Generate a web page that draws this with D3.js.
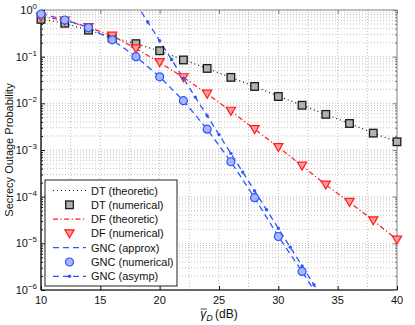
<!DOCTYPE html>
<html>
<head>
<meta charset="utf-8">
<script src="https://cdn.jsdelivr.net/npm/d3@7"></script>
<style>
  body { margin: 0; background: #fff; }
  text { font-family: "Liberation Sans", Arial, sans-serif; }
</style>
</head>
<body>
<div id="chart"></div>
<script>
let w = 415,
    h = 325;

let margin = { top: 10, bottom: 35, left: 41, right: 18 };
let width = w - margin.left - margin.right;
let height = h - margin.top - margin.bottom;

// data
let snrNum = [10, 12, 14, 16, 18, 20, 22, 24, 26, 28, 30, 32, 34, 36, 38, 40];
let dtTheoretic = [0.64, 0.52, 0.37, 0.26, 0.19, 0.132, 0.086, 0.056, 0.036, 0.023, 0.0143, 0.0091, 0.0058, 0.0037, 0.0023, 0.0015];
let dtNumerical = [0.63, 0.52, 0.37, 0.25, 0.19, 0.134, 0.085, 0.056, 0.036, 0.023, 0.014, 0.0091, 0.0058, 0.0037, 0.0023, 0.0015];
let dfTheoretic = [0.73, 0.6, 0.43, 0.28, 0.15, 0.075, 0.036, 0.016, 0.0068, 0.0028, 0.00115, 0.00046, 0.00018, 0.000076, 0.000031, 0.000012];
let dfNumerical = [0.72, 0.59, 0.43, 0.28, 0.15, 0.076, 0.036, 0.016, 0.0069, 0.0028, 0.00115, 0.00046, 0.00018, 0.000077, 0.000031, 0.000012];

let snrGnc = [10, 12, 14, 16, 18, 20, 22, 24, 26, 28, 30, 32, 34];
let gncApprox = [0.84, 0.62, 0.42, 0.23, 0.1, 0.037, 0.0114, 0.0028, 0.00056, 0.000095, 0.000014, 0.0000025, 0.0000004];
let gncNumerical = [0.82, 0.61, 0.42, 0.23, 0.1, 0.037, 0.0114, 0.0028, 0.00056, 0.000095, 0.000014, 0.0000025];

let snrAsymp = [18, 19, 20, 21, 22, 23, 24, 25, 26, 27, 28, 29, 30, 31, 32, 33, 34];
let gncAsymp = [1.39, 0.552, 0.219, 0.0867, 0.0344, 0.0136, 0.0054, 0.00214, 0.000847, 0.000336, 0.000133, 0.0000527, 0.0000209, 0.00000828, 0.00000328, 0.0000013, 0.000000515];

let xTicks = [10, 15, 20, 25, 30, 35, 40];
let yTicks = [1, 1e-1, 1e-2, 1e-3, 1e-4, 1e-5, 1e-6];
let yTickExp = ["0", "\u22121", "\u22122", "\u22123", "\u22124", "\u22125", "\u22126"];
let legendLabels = ["DT (theoretic)", "DT (numerical)", "DF (theoretic)", "DF (numerical)", "GNC (approx)", "GNC (numerical)", "GNC (asymp)"];

let blue = "#2b55ff";
let red = "#ff1a1a";

let svg = d3.select("#chart")
            .append("svg")
            .attr("width", w)
            .attr("height", h);

let g = svg.append("g")
           .attr("transform", "translate(" + margin.left + "," + margin.top + ")");

let x = d3.scaleLinear().domain([10, 40]).range([0, width]);
let y = d3.scaleLog().domain([1e-6, 1]).range([height, 0]);

g.append("clipPath").attr("id", "clip")
  .append("rect").attr("width", width).attr("height", height);

// grid
let minorY = [];
for (let e = -6; e < 0; e++) {
  for (let m = 2; m <= 9; m++) minorY.push(m * Math.pow(10, e));
}
let gridX = d3.range(10, 40.01, 2.5);

g.append("g").selectAll("line")
  .data(minorY.concat(yTicks.slice(1, 6)))
  .enter().append("line")
  .attr("x1", 0).attr("x2", width)
  .attr("y1", d => y(d)).attr("y2", d => y(d))
  .attr("stroke", "#b0b0b0").attr("stroke-width", 0.8)
  .attr("stroke-dasharray", "1,2");

g.append("g").selectAll("line")
  .data(gridX.slice(1, -1))
  .enter().append("line")
  .attr("x1", d => x(d)).attr("x2", d => x(d))
  .attr("y1", 0).attr("y2", height)
  .attr("stroke", "#b0b0b0").attr("stroke-width", 0.8)
  .attr("stroke-dasharray", "1,2");

// axes box
g.append("rect").attr("width", width).attr("height", height)
  .attr("fill", "none").attr("stroke", "#808080").attr("stroke-width", 1);
g.append("line").attr("x1", 0).attr("x2", 0).attr("y1", 0).attr("y2", height)
  .attr("stroke", "#111").attr("stroke-width", 1.2);
g.append("line").attr("x1", 0).attr("x2", width).attr("y1", height).attr("y2", height)
  .attr("stroke", "#111").attr("stroke-width", 1.2);

// inward ticks
let xAxisB = d3.axisBottom(x).tickValues(xTicks).tickSize(-4).tickFormat("");
let xAxisT = d3.axisTop(x).tickValues(xTicks).tickSize(-4).tickFormat("");
let yAxisL = d3.axisLeft(y).tickValues(yTicks).tickSize(-4).tickFormat("");
let yAxisR = d3.axisRight(y).tickValues(yTicks).tickSize(-4).tickFormat("");
let yMinorL = d3.axisLeft(y).tickValues(minorY).tickSize(-2).tickFormat("");
let yMinorR = d3.axisRight(y).tickValues(minorY).tickSize(-2).tickFormat("");

[[xAxisB, "translate(0," + height + ")", "#111"],
 [xAxisT, "translate(0,0)", "#808080"],
 [yAxisL, "translate(0,0)", "#111"],
 [yAxisR, "translate(" + width + ",0)", "#808080"],
 [yMinorL, "translate(0,0)", "#111"],
 [yMinorR, "translate(" + width + ",0)", "#808080"]].forEach(a => {
  let ax = g.append("g").attr("transform", a[1]).call(a[0]);
  ax.select(".domain").remove();
  ax.selectAll(".tick line").attr("stroke", a[2]);
});

// tick labels
g.append("g").selectAll("text")
  .data(xTicks)
  .enter().append("text")
  .attr("x", d => x(d)).attr("y", height + 14)
  .attr("text-anchor", "middle")
  .attr("font-size", 11).attr("fill", "#111")
  .text(d => d);

let yl = g.append("g").selectAll("text")
  .data(yTicks)
  .enter().append("text")
  .attr("x", -4).attr("y", d => y(d) + 4)
  .attr("text-anchor", "end")
  .attr("font-size", 11).attr("fill", "#111");
yl.append("tspan").text("10");
yl.append("tspan").attr("dy", -5).attr("font-size", 8).text((d, i) => yTickExp[i]);

// axis titles
svg.append("text")
   .attr("transform", "translate(13," + (margin.top + height / 2) + ") rotate(-90)")
   .attr("text-anchor", "middle")
   .attr("font-size", 11).attr("fill", "#111")
   .text("Secrecy Outage Probability");

let xl = svg.append("text")
   .attr("x", margin.left + width / 2).attr("y", 318)
   .attr("text-anchor", "middle")
   .attr("font-family", "'Liberation Serif', 'DejaVu Serif', serif")
   .attr("font-size", 12).attr("fill", "#111");
xl.append("tspan").attr("font-style", "italic").text("\u03b3");
xl.append("tspan").attr("font-style", "italic").attr("font-size", 9).attr("dy", 2.5).text("D");
xl.append("tspan").attr("dy", -2.5).text("\u2009(dB)");
let bb = xl.node().getBBox();
let gw = xl.node().getSubStringLength(0, 1);
svg.append("line")
   .attr("x1", bb.x + 0.5).attr("x2", bb.x + gw + 0.5)
   .attr("y1", 309).attr("y2", 309)
   .attr("stroke", "#111").attr("stroke-width", 0.8);

// lines
let line = (xs) => d3.line().x((d, i) => x(xs[i])).y(d => y(d));
let plot = g.append("g").attr("clip-path", "url(#clip)");

plot.append("path").datum(dtTheoretic).attr("d", line(snrNum))
  .attr("fill", "none").attr("stroke", "#111").attr("stroke-width", 1.2)
  .attr("stroke-dasharray", "1,3");
plot.append("path").datum(dfTheoretic).attr("d", line(snrNum))
  .attr("fill", "none").attr("stroke", red).attr("stroke-width", 1.2)
  .attr("stroke-dasharray", "5,2.5,1.2,2.5");
plot.append("path").datum(gncApprox).attr("d", line(snrGnc))
  .attr("fill", "none").attr("stroke", blue).attr("stroke-width", 1.3)
  .attr("stroke-dasharray", "6,4");
plot.append("path").datum(gncAsymp).attr("d", line(snrAsymp))
  .attr("fill", "none").attr("stroke", blue).attr("stroke-width", 1.3)
  .attr("stroke-dasharray", "6,4");

// markers
let marks = g.append("g");
function square(sel) {
  sel.append("rect").attr("x", -3.8).attr("y", -3.8).attr("width", 7.6).attr("height", 7.6)
     .attr("fill", "#b0b0b0").attr("stroke", "#1a1a1a").attr("stroke-width", 1.3);
}
function triangle(sel) {
  sel.append("path").attr("d", "M-4.6,-3.6L4.6,-3.6L0,4.4Z")
     .attr("fill", "#ff9c9c").attr("stroke", red).attr("stroke-width", 1.2);
}
function circle(sel) {
  sel.append("circle").attr("r", 4)
     .attr("fill", "#a9b6ff").attr("stroke", blue).attr("stroke-width", 1.2);
}
function dot(sel) {
  sel.append("circle").attr("r", 1.7).attr("fill", blue);
}

marks.selectAll(".dt").data(dtNumerical).enter().append("g")
  .attr("transform", (d, i) => "translate(" + x(snrNum[i]) + "," + y(d) + ")").call(square);
marks.selectAll(".df").data(dfNumerical).enter().append("g")
  .attr("transform", (d, i) => "translate(" + x(snrNum[i]) + "," + y(d) + ")").call(triangle);
marks.selectAll(".gn").data(gncNumerical).enter().append("g")
  .attr("transform", (d, i) => "translate(" + x(snrGnc[i]) + "," + y(d) + ")").call(circle);
marks.selectAll(".ga").data(gncAsymp.map((d, i) => [snrAsymp[i], d]).filter(d => d[1] <= 1 && d[1] >= 1e-6))
  .enter().append("g")
  .attr("transform", d => "translate(" + x(d[0]) + "," + y(d[1]) + ")").call(dot);

// legend
let lg = svg.append("g").attr("transform", "translate(45,180)");
lg.append("rect").attr("width", 132).attr("height", 106)
  .attr("fill", "#fff").attr("stroke", "#222").attr("stroke-width", 1);

let rowY = i => 10.5 + i * 14.3;
let sample = [
  ["#111", "1,3", null],
  [null, null, square],
  [red, "5,2.5,1.2,2.5", null],
  [null, null, triangle],
  [blue, "6,4", null],
  [null, null, circle],
  [blue, "6,4", dot]
];
sample.forEach((s, i) => {
  let row = lg.append("g").attr("transform", "translate(0," + rowY(i) + ")");
  if (s[0]) {
    row.append("line").attr("x1", 8).attr("x2", 41).attr("y1", 0).attr("y2", 0)
       .attr("stroke", s[0]).attr("stroke-width", 1.2).attr("stroke-dasharray", s[1]);
  }
  if (s[2]) {
    row.append("g").attr("transform", "translate(24.5,0)").call(s[2]);
  }
  row.append("text").attr("x", 46).attr("y", 4).attr("font-size", 11).attr("fill", "#111")
     .text(legendLabels[i]);
});
</script>
</body>
</html>
